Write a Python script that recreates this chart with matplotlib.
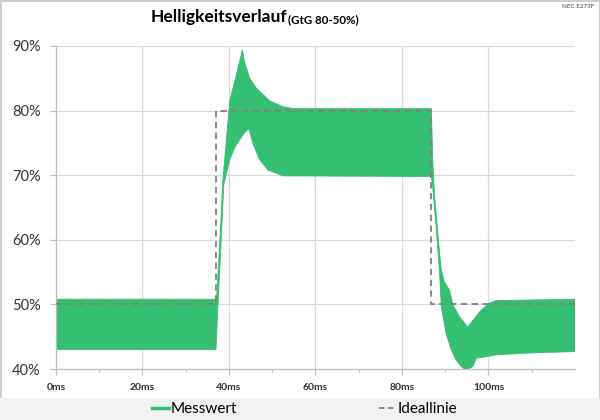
import matplotlib.pyplot as plt
from matplotlib.lines import Line2D
from matplotlib.patches import Rectangle

plt.rcParams['font.family'] = ['Lato', 'DejaVu Sans']

# upper / lower envelope of the measured signal (ms, %)
t_upper = [0, 37.0, 37.1, 37.9, 38.6, 39.8, 40.2, 41.7, 42.6, 43.1, 43.6, 44.8, 46.3,
           49.4, 52.5, 55.0, 86.8, 87.1, 87.5, 87.9, 88.3, 88.7, 89.1, 89.8, 91.0,
           91.8, 93.3, 95.2, 96.7, 98.3, 100.2, 101.8, 120]
upper = [50.8, 50.8, 50.3, 60.0, 69.3, 78.5, 81.6, 85.5, 88.0, 89.4, 87.5, 85.0, 83.5,
         81.5, 80.6, 80.3, 80.3, 72.4, 67.2, 64.1, 61.0, 57.9, 55.3, 53.5, 52.2,
         49.9, 48.1, 46.5, 47.8, 49.1, 50.2, 50.6, 50.8]

t_lower = [0, 37.0, 37.2, 37.5, 38.2, 38.8, 40.2, 41.5, 43.5, 44.6, 45.5, 47.0, 49.0,
           52.5, 86.8, 87.1, 87.9, 88.7, 89.1, 90.2, 91.4, 92.5, 93.7, 94.8, 96.4,
           97.2, 99.5, 101.8, 110, 120]
lower = [43.0, 43.0, 46.0, 50.5, 60.0, 68.5, 72.5, 74.5, 76.5, 77.2, 75.0, 72.5, 70.8,
         69.9, 69.8, 68.2, 62.0, 54.8, 49.6, 45.5, 43.0, 41.4, 40.4, 39.8, 40.4,
         41.7, 41.9, 42.2, 42.5, 42.7]

# ideal step response
ideal_t = [0, 37.0, 37.0, 86.8, 86.8, 120]
ideal_v = [50, 50, 80, 80, 50, 50]

x_ticks = [0, 20, 40, 60, 80, 100]
y_ticks = [40, 50, 60, 70, 80, 90]

green = '#35bf72'
grid_col = '#d9d9d9'

fig = plt.figure(figsize=(6, 4.2), dpi=100)
fig.patch.set_edgecolor('#d0d0d0')
fig.patch.set_linewidth(1)

ax = fig.add_axes([0.0933, 0.1214, 0.865, 0.7691])

ax.fill(t_upper + t_lower[::-1], upper + lower[::-1], color=green, lw=0.6,
        edgecolor=green, zorder=2)
ax.plot(ideal_t, ideal_v, color='#808080', lw=1.3, ls=(0, (3.5, 2.5)), zorder=3)

ax.set_xlim(0, 120)
ax.set_ylim(40, 90)
ax.set_xticks(x_ticks)
ax.set_xticklabels([f'{v}ms' for v in x_ticks], fontsize=7.5, fontweight='bold',
                   color='#333333')
ax.set_xticks([10, 30, 50, 70, 90, 110], minor=True)
ax.set_yticks(y_ticks)
ax.set_yticklabels([f'{v}%' for v in y_ticks], fontsize=10.5, color='#333333')
ax.grid(True, color=grid_col, lw=0.9, zorder=0)
ax.set_axisbelow(True)
for s in ['top', 'right']:
    ax.spines[s].set_visible(False)
for s in ['left', 'bottom']:
    ax.spines[s].set_color('#bfbfbf')
    ax.spines[s].set_linewidth(0.9)
ax.tick_params(axis='both', which='major', color='#bfbfbf', length=4, width=0.9)
ax.tick_params(axis='x', which='minor', color='#bfbfbf', length=2, width=0.9)
ax.tick_params(axis='x', pad=6)
ax.tick_params(axis='y', pad=7)

# title
fig.text(0.478, 0.959, 'Helligkeitsverlauf', ha='right', va='center',
         fontsize=12.5, fontweight='bold', color='#000000')
fig.text(0.48, 0.954, '(GtG 80-50%)', ha='left', va='center',
         fontsize=8.3, fontweight='bold', color='#000000')
fig.text(0.99, 0.985, 'NEC E273F', ha='right', va='center', fontsize=4.5,
         color='#444444')

# legend band
fig.patches.append(Rectangle((0, 0), 1, 0.052, transform=fig.transFigure,
                             facecolor='#f2f2f2', edgecolor='none', zorder=0))
handles = [Line2D([], [], color=green, lw=2.5),
           Line2D([], [], color='#808080', lw=1.3, ls=(0, (3, 2)))]
fig.legend(handles, ['Messwert', 'Ideallinie'], loc='center', ncol=2,
           bbox_to_anchor=(0.508, 0.026), frameon=False, fontsize=11,
           handlelength=1.1, handletextpad=0.1, columnspacing=9.3)

fig.savefig('out.png', dpi=100)
